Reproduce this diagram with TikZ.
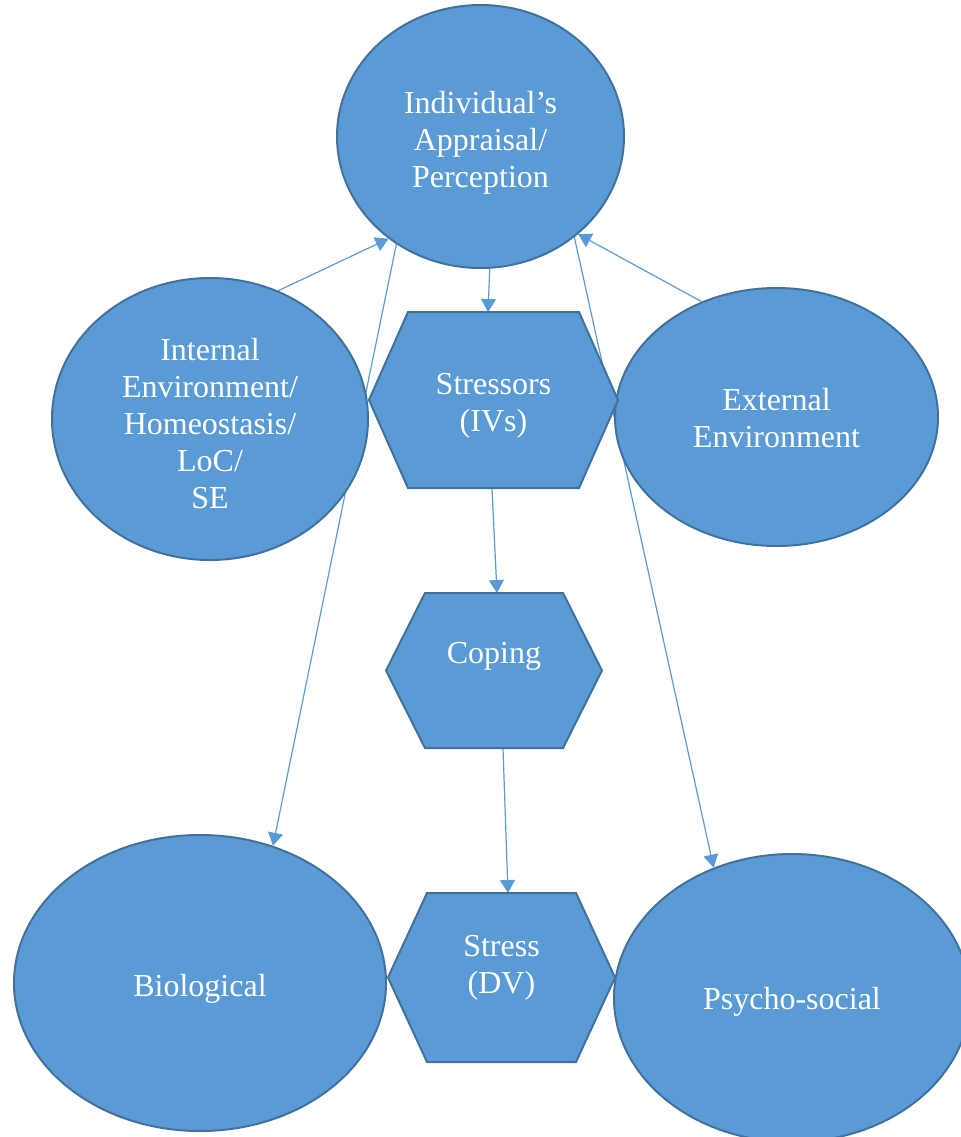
\documentclass[tikz,border=0pt]{standalone}
\usepackage{fontspec}
\setmainfont{Liberation Serif}
\usetikzlibrary{shapes.geometric,arrows.meta,backgrounds}

\definecolor{boxfill}{RGB}{91,155,213}
\definecolor{boxline}{RGB}{65,113,156}

\tikzset{
    blob/.style={ellipse, draw=boxline, line width=1pt, fill=boxfill, inner sep=0pt},
    hexbox/.style={rectangle, inner sep=0pt, outer sep=0pt},
    hexline/.style={draw=boxline, line width=1pt, fill=boxfill, line join=miter},
    lbl/.style={text=white, align=center, inner sep=0pt, font=\fontsize{16}{18.5}\selectfont},
    link/.style={draw=boxfill, line width=0.6pt, -{Triangle[length=6.5pt,width=7.5pt]}}
}

% hexagon drawn on the frame of a named box node
\newcommand{\hexshape}[1]{%
    \draw[hexline] (#1.west) -- ([xshift=19.5pt]#1.north west) -- ([xshift=-19.5pt]#1.north east)
        -- (#1.east) -- ([xshift=-19.5pt]#1.south east) -- ([xshift=19.5pt]#1.south west) -- cycle;}

\begin{document}
\begin{tikzpicture}[x=0.5pt,y=-0.5pt] % one unit = one pixel of the layout
    \useasboundingbox (0,0) rectangle (961,1137);

    % Ellipses
    \node[blob, minimum width=143.5pt, minimum height=131.5pt] (app) at (480.5,136.5) {};
    \node[blob, minimum width=158pt, minimum height=141pt] (int) at (210,419) {};
    \node[blob, minimum width=161.5pt, minimum height=129pt] (ext) at (776.5,417) {};
    \node[blob, minimum width=186pt, minimum height=148pt] (bio) at (200,983) {};
    \node[blob, minimum width=178pt, minimum height=144pt] (psy) at (792,998) {};

    % Hexagons
    \node[hexbox, minimum width=124.5pt, minimum height=88pt] (st) at (493.5,400) {};
    \node[hexbox, minimum width=108pt, minimum height=77.5pt] (cp) at (494,670.5) {};
    \node[hexbox, minimum width=113.5pt, minimum height=84.5pt] (sr) at (501.5,977.5) {};
    \hexshape{st}
    \hexshape{cp}
    \hexshape{sr}

    % Labels
    \node[lbl] at ([yshift=-3.25pt]app) {Individual’s\\Appraisal/\\Perception};
    \node[lbl] at ([yshift=-2.5pt]int) {Internal\\Environment/\\Homeostasis/\\LoC/\\SE};
    \node[lbl] at ([yshift=-0.5pt]ext) {External\\Environment};
    \node[lbl] at ([yshift=-3pt]bio) {Biological};
    \node[lbl] at ([yshift=-2pt]psy) {Psycho-social};
    \node[lbl] at ([yshift=-3pt]st) {Stressors\\(IVs)};
    \node[lbl] at ([yshift=7pt]cp) {Coping};
    \node[lbl] at ([yshift=4.75pt]sr) {Stress\\(DV)};

    % Connectors, behind the shapes
    \begin{scope}[on background layer]
        \draw[link] (int.62) -- (app.228);
        \draw[link] (ext.123) -- (app.315);
        \draw[link] (app.274) -- ([xshift=-2.75pt]st.north);
        \draw[link] ([xshift=-0.75pt]st.south) -- ([xshift=1.5pt]cp.north);
        \draw[link] ([xshift=4.5pt]cp.south) -- ([xshift=3.25pt]sr.north);
        \draw[link] (app.232) -- (bio.62);
        \draw[link] (app.313) -- (psy.121);
    \end{scope}
\end{tikzpicture}
\end{document}
